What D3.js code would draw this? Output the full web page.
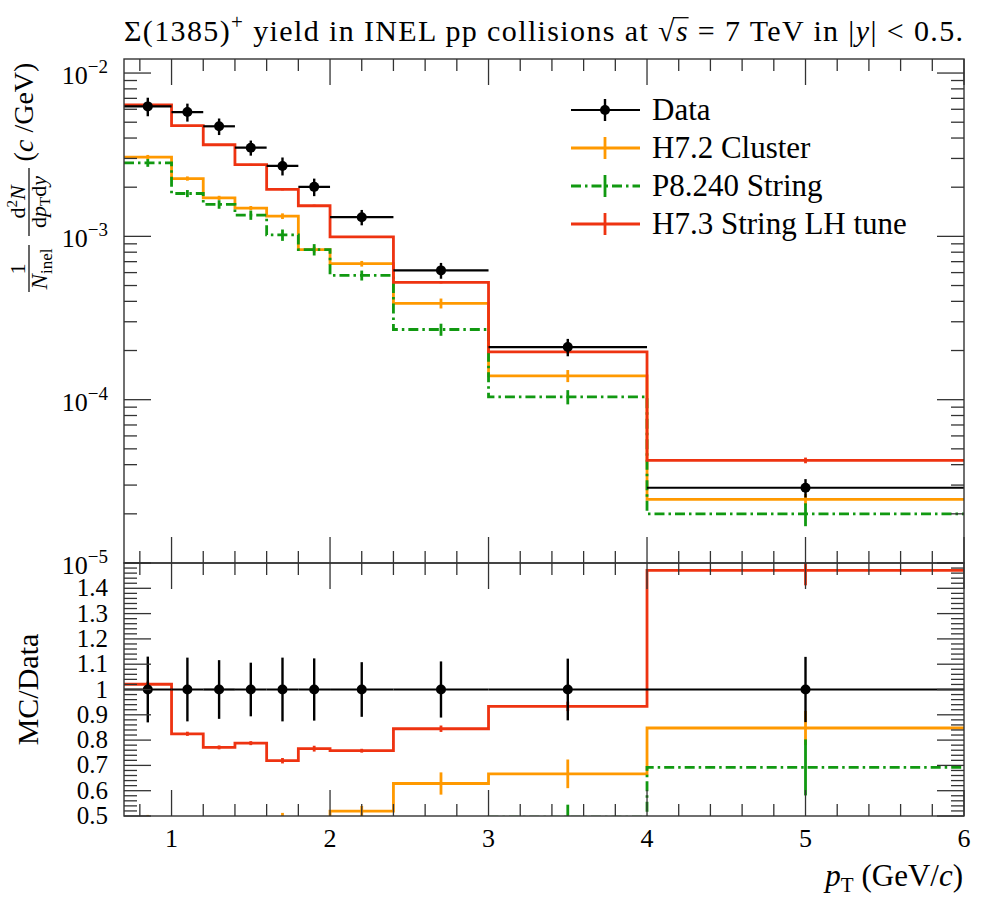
<!DOCTYPE html>
<html>
<head>
<meta charset="utf-8">
<script src="https://cdn.jsdelivr.net/npm/d3@7"></script>
<style>
  body { margin: 0; background: #fff; }
  svg { display: block; font-family: "Liberation Serif", "DejaVu Serif", serif; }
</style>
</head>
<body>
<svg id="chart" width="996" height="900"></svg>
<script>
(function() {
  //// Data
  const binEdges = [0.7, 1.0, 1.2, 1.4, 1.6, 1.8, 2.0, 2.4, 3.0, 4.0, 6.0];

  const dataValues = [6.25e-3, 5.77e-3, 4.72e-3, 3.49e-3, 2.70e-3, 2.01e-3, 1.31e-3, 6.19e-4, 2.10e-4, 2.89e-5];
  const dataRelErr = [0.13, 0.126, 0.116, 0.106, 0.126, 0.123, 0.108, 0.111, 0.122, 0.129];

  const h72Values = [3.06e-3, 2.26e-3, 1.72e-3, 1.49e-3, 1.33e-3, 8.3e-4, 6.8e-4, 3.89e-4, 1.40e-4, 2.45e-5];
  const h72RelErr = [0.03, 0.03, 0.03, 0.03, 0.04, 0.04, 0.04, 0.07, 0.085, 0.08];

  const p8Values = [2.82e-3, 1.83e-3, 1.57e-3, 1.35e-3, 1.02e-3, 8.3e-4, 5.77e-4, 2.69e-4, 1.04e-4, 2.0e-5];
  const p8RelErr = [0.055, 0.05, 0.06, 0.065, 0.08, 0.08, 0.07, 0.085, 0.1, 0.16];

  const h73Values = [6.38e-3, 4.76e-3, 3.64e-3, 2.75e-3, 1.94e-3, 1.54e-3, 9.93e-4, 5.23e-4, 1.96e-4, 4.25e-5];
  const h73RelErr = [0.01, 0.01, 0.01, 0.01, 0.015, 0.015, 0.01, 0.015, 0.02, 0.04];

  const xTickValues = [1, 2, 3, 4, 5, 6];
  const mainTickExponents = [-2, -3, -4, -5];
  const ratioTickValues = [0.5, 0.6, 0.7, 0.8, 0.9, 1, 1.1, 1.2, 1.3, 1.4];

  const legendLabels = ["Data", "H7.2 Cluster", "P8.240 String", "H7.3 String LH tune"];

  // MC series, in drawing order
  const mcSeries = [
    { name: legendLabels[1], values: h72Values, relErr: h72RelErr, color: "#ff9900", dash: null },
    { name: legendLabels[2], values: p8Values, relErr: p8RelErr, color: "#119911", dash: "10,4,2.5,4" },
    { name: legendLabels[3], values: h73Values, relErr: h73RelErr, color: "#ee3311", dash: null }
  ];

  //// Layout
  const frame = { left: 124, right: 964, top: 59, mid: 563, bottom: 816 };
  const tickColor = "#333";
  const majorLen = 26;
  const minorLen = 12;

  const x = d3.scaleLinear().domain([0.7, 6]).range([frame.left, frame.right]);
  const y = d3.scaleLog().domain([1e-5, 1.219e-2]).range([frame.mid, frame.top]);
  const yr = d3.scaleLinear().domain([0.5, 1.5]).range([frame.bottom, frame.mid]);

  const bins = binEdges.slice(0, -1).map((x0, i) => ({
    x0,
    x1: binEdges[i + 1],
    xc: (x0 + binEdges[i + 1]) / 2
  }));

  const svg = d3.select("#chart");
  const defs = svg.append("defs");
  defs.append("clipPath").attr("id", "clip-main")
    .append("rect")
    .attr("x", frame.left).attr("y", frame.top)
    .attr("width", frame.right - frame.left).attr("height", frame.mid - frame.top);
  defs.append("clipPath").attr("id", "clip-ratio")
    .append("rect")
    .attr("x", frame.left).attr("y", frame.mid)
    .attr("width", frame.right - frame.left).attr("height", frame.bottom - frame.mid);

  svg.append("rect").attr("width", 996).attr("height", 900).attr("fill", "#fff");

  // Step path helper
  const stepPoints = values => bins.flatMap((b, i) => [[b.x0, values[i]], [b.x1, values[i]]]);

  //// Main panel
  const main = svg.append("g").attr("clip-path", "url(#clip-main)");
  const mainLine = d3.line().x(d => x(d[0])).y(d => y(d[1]));

  mcSeries.forEach(s => {
    const g = main.append("g");
    g.append("path")
      .attr("d", mainLine(stepPoints(s.values)))
      .attr("fill", "none")
      .attr("stroke", s.color)
      .attr("stroke-width", 2.8)
      .attr("stroke-dasharray", s.dash);
    g.selectAll("line")
      .data(bins)
      .join("line")
      .attr("x1", d => x(d.xc))
      .attr("x2", d => x(d.xc))
      .attr("y1", (d, i) => y(s.values[i] * (1 - s.relErr[i])))
      .attr("y2", (d, i) => y(s.values[i] * (1 + s.relErr[i])))
      .attr("stroke", s.color)
      .attr("stroke-width", 2.8);
  });

  const dataG = main.append("g");
  dataG.selectAll(".xbar")
    .data(bins)
    .join("line")
    .attr("class", "xbar")
    .attr("x1", d => x(d.x0))
    .attr("x2", d => x(d.x1))
    .attr("y1", (d, i) => y(dataValues[i]))
    .attr("y2", (d, i) => y(dataValues[i]))
    .attr("stroke", "#000")
    .attr("stroke-width", 2.2);
  dataG.selectAll(".ybar")
    .data(bins)
    .join("line")
    .attr("class", "ybar")
    .attr("x1", d => x(d.xc))
    .attr("x2", d => x(d.xc))
    .attr("y1", (d, i) => y(dataValues[i] * (1 - dataRelErr[i])))
    .attr("y2", (d, i) => y(dataValues[i] * (1 + dataRelErr[i])))
    .attr("stroke", "#000")
    .attr("stroke-width", 2.4);
  dataG.selectAll("circle")
    .data(bins)
    .join("circle")
    .attr("cx", d => x(d.xc))
    .attr("cy", (d, i) => y(dataValues[i]))
    .attr("r", 5)
    .attr("fill", "#000");

  //// Ratio panel
  const ratio = svg.append("g").attr("clip-path", "url(#clip-ratio)");
  const ratioLine = d3.line().x(d => x(d[0])).y(d => yr(d[1]));

  mcSeries.forEach(s => {
    const r = s.values.map((v, i) => v / dataValues[i]);
    const g = ratio.append("g");
    g.append("path")
      .attr("d", ratioLine(stepPoints(r)))
      .attr("fill", "none")
      .attr("stroke", s.color)
      .attr("stroke-width", 2.8)
      .attr("stroke-dasharray", s.dash);
    g.selectAll("line")
      .data(bins)
      .join("line")
      .attr("x1", d => x(d.xc))
      .attr("x2", d => x(d.xc))
      .attr("y1", (d, i) => yr(r[i] * (1 - s.relErr[i])))
      .attr("y2", (d, i) => yr(r[i] * (1 + s.relErr[i])))
      .attr("stroke", s.color)
      .attr("stroke-width", 2.8);
  });

  const dataR = ratio.append("g");
  dataR.selectAll(".xbar")
    .data(bins)
    .join("line")
    .attr("class", "xbar")
    .attr("x1", d => x(d.x0))
    .attr("x2", d => x(d.x1))
    .attr("y1", yr(1))
    .attr("y2", yr(1))
    .attr("stroke", "#000")
    .attr("stroke-width", 2.2);
  dataR.selectAll(".ybar")
    .data(bins)
    .join("line")
    .attr("class", "ybar")
    .attr("x1", d => x(d.xc))
    .attr("x2", d => x(d.xc))
    .attr("y1", (d, i) => yr(1 - dataRelErr[i]))
    .attr("y2", (d, i) => yr(1 + dataRelErr[i]))
    .attr("stroke", "#000")
    .attr("stroke-width", 2.4);
  dataR.selectAll("circle")
    .data(bins)
    .join("circle")
    .attr("cx", d => x(d.xc))
    .attr("cy", yr(1))
    .attr("r", 5)
    .attr("fill", "#000");

  //// Ticks and frames
  const ticks = svg.append("g").attr("stroke", tickColor).attr("stroke-width", 1.3);
  const xMinor = d3.range(0.8, 6, 0.2).filter(v => Math.abs(v - Math.round(v)) > 1e-6);
  const logMinor = [-5, -4, -3, -2].flatMap(e => d3.range(2, 10).map(k => k * Math.pow(10, e)))
    .filter(v => v < y.domain()[1]);
  const ratioMinor = d3.range(0, 51).map(i => 0.5 + i * 0.02)
    .filter(v => Math.abs(v * 10 - Math.round(v * 10)) > 1e-6);
  const ratioMajor = d3.range(0, 11).map(i => 0.5 + i * 0.1);

  function xTicks(y0, dir) {
    ticks.append("g").selectAll("line")
      .data([...xTickValues.map(v => [v, majorLen]), ...xMinor.map(v => [v, minorLen])])
      .join("line")
      .attr("x1", d => x(d[0]))
      .attr("x2", d => x(d[0]))
      .attr("y1", y0)
      .attr("y2", d => y0 + dir * d[1]);
  }
  function yTicks(scale, majors, minors) {
    const all = [...majors.map(v => [v, majorLen + 1]), ...minors.map(v => [v, minorLen + 1])];
    [[frame.left, 1], [frame.right, -1]].forEach(([x0, dir]) => {
      ticks.append("g").selectAll("line")
        .data(all)
        .join("line")
        .attr("x1", x0)
        .attr("x2", d => x0 + dir * d[1])
        .attr("y1", d => scale(d[0]))
        .attr("y2", d => scale(d[0]));
    });
  }
  xTicks(frame.top, 1);
  xTicks(frame.mid, -1);
  xTicks(frame.mid, 1);
  xTicks(frame.bottom, -1);
  yTicks(y, mainTickExponents.map(e => Math.pow(10, e)), logMinor);
  yTicks(yr, ratioMajor, ratioMinor);

  svg.append("rect")
    .attr("x", frame.left).attr("y", frame.top)
    .attr("width", frame.right - frame.left).attr("height", frame.mid - frame.top)
    .attr("fill", "none").attr("stroke", tickColor).attr("stroke-width", 1.4);
  svg.append("rect")
    .attr("x", frame.left).attr("y", frame.mid)
    .attr("width", frame.right - frame.left).attr("height", frame.bottom - frame.mid)
    .attr("fill", "none").attr("stroke", tickColor).attr("stroke-width", 1.4);

  //// Tick labels
  const labels = svg.append("g").attr("fill", "#000");
  labels.selectAll(".xlab")
    .data(xTickValues)
    .join("text")
    .attr("class", "xlab")
    .attr("x", d => x(d))
    .attr("y", 847)
    .attr("text-anchor", "middle")
    .attr("font-size", 26)
    .text(d => d);

  labels.selectAll(".ylab")
    .data(mainTickExponents)
    .join("text")
    .attr("class", "ylab")
    .attr("x", 108)
    .attr("y", d => y(Math.pow(10, d)) + 11)
    .attr("text-anchor", "end")
    .attr("font-size", 26)
    .call(t => t.append("tspan").text("10"))
    .call(t => t.append("tspan")
      .attr("dy", -11)
      .attr("font-size", 19)
      .text(d => "\u2212" + Math.abs(d)));

  labels.selectAll(".rlab")
    .data(ratioTickValues)
    .join("text")
    .attr("class", "rlab")
    .attr("x", 108)
    .attr("y", d => yr(d) + 8)
    .attr("text-anchor", "end")
    .attr("font-size", 25)
    .text(d => (d === 1 ? "1" : d3.format(".1f")(d)));

  //// Axis titles
  svg.append("text")
    .attr("x", 963)
    .attr("y", 886)
    .attr("text-anchor", "end")
    .attr("font-size", 31)
    .call(t => t.append("tspan").attr("font-style", "italic").text("p"))
    .call(t => t.append("tspan").attr("dy", 6).attr("font-size", 21).text("T"))
    .call(t => t.append("tspan").attr("dy", -6).text(" (GeV/"))
    .call(t => t.append("tspan").attr("font-style", "italic").text("c"))
    .call(t => t.append("tspan").text(")"));

  svg.append("text")
    .attr("transform", `translate(38,${yr(1)}) rotate(-90)`)
    .attr("text-anchor", "middle")
    .attr("font-size", 30)
    .text("MC/Data");

  // Main y title: 1/N_inel  d²N/dp_T dy  (c/GeV)
  const yt = svg.append("g").attr("transform", "translate(29,178) rotate(-90)");
  yt.append("text")
    .attr("x", 66).attr("y", 4)
    .attr("text-anchor", "middle")
    .attr("font-size", 28)
    .call(t => t.append("tspan").text("("))
    .call(t => t.append("tspan").attr("font-style", "italic").text("c"))
    .call(t => t.append("tspan").text(" /GeV)"));
  // fraction d²N / dp_T dy
  yt.append("text")
    .attr("x", -24).attr("y", -4)
    .attr("text-anchor", "middle")
    .attr("font-size", 22)
    .call(t => t.append("tspan").text("d"))
    .call(t => t.append("tspan").attr("dy", -8).attr("font-size", 15).text("2"))
    .call(t => t.append("tspan").attr("dy", 8).attr("font-style", "italic").text("N"));
  yt.append("line")
    .attr("x1", -58).attr("x2", 10).attr("y1", 0).attr("y2", 0)
    .attr("stroke", "#000").attr("stroke-width", 1.2);
  yt.append("text")
    .attr("x", -24).attr("y", 17)
    .attr("text-anchor", "middle")
    .attr("font-size", 22)
    .call(t => t.append("tspan").text("d"))
    .call(t => t.append("tspan").attr("font-style", "italic").text("p"))
    .call(t => t.append("tspan").attr("dy", 4).attr("font-size", 15).text("T"))
    .call(t => t.append("tspan").attr("dy", -4).text("d"))
    .call(t => t.append("tspan").attr("font-style", "italic").text("y"));
  // fraction 1 / N_inel
  yt.append("text")
    .attr("x", -91).attr("y", -4)
    .attr("text-anchor", "middle")
    .attr("font-size", 22)
    .text("1");
  yt.append("line")
    .attr("x1", -114).attr("x2", -67).attr("y1", 0).attr("y2", 0)
    .attr("stroke", "#000").attr("stroke-width", 1.2);
  yt.append("text")
    .attr("x", -91).attr("y", 18)
    .attr("text-anchor", "middle")
    .attr("font-size", 23)
    .call(t => t.append("tspan").attr("font-style", "italic").text("N"))
    .call(t => t.append("tspan").attr("dy", 5).attr("font-size", 17).text("inel"));

  //// Title
  const titleY = 41;
  const title = svg.append("text")
    .attr("x", 124)
    .attr("y", titleY)
    .attr("font-size", 30)
    .attr("textLength", 839)
    .attr("lengthAdjust", "spacing")
    .call(t => t.append("tspan").text("\u03A3(1385)"))
    .call(t => t.append("tspan").attr("dy", -12).attr("font-size", 21).text("+"))
    .call(t => t.append("tspan").attr("dy", 12).text(" yield in INEL pp collisions at \u221A"))
    .call(t => t.append("tspan").attr("font-style", "italic").text("s"))
    .call(t => t.append("tspan").text(" = 7 TeV in |"))
    .call(t => t.append("tspan").attr("font-style", "italic").text("y"))
    .call(t => t.append("tspan").text("| < 0.5."));

  // radical bar over the s
  const titleNode = title.node();
  const rootIndex = titleNode.textContent.indexOf("\u221A");
  const rootBox = titleNode.getExtentOfChar(rootIndex);
  const sBox = titleNode.getExtentOfChar(rootIndex + 1);
  svg.append("line")
    .attr("x1", rootBox.x + rootBox.width - 1.5)
    .attr("x2", sBox.x + sBox.width + 1)
    .attr("y1", titleY - 23.3)
    .attr("y2", titleY - 23.3)
    .attr("stroke", "#000")
    .attr("stroke-width", 1.3);

  //// Legend
  const legendRows = [
    { name: legendLabels[0], color: "#000", dash: null, dot: true },
    ...mcSeries.map(s => ({ name: s.name, color: s.color, dash: s.dash, dot: false }))
  ];
  const legend = svg.append("g")
    .selectAll("g")
    .data(legendRows)
    .join("g")
    .attr("transform", (d, i) => `translate(0,${110 + i * 38})`);
  legend.append("line")
    .attr("x1", 571).attr("x2", 640).attr("y1", 0).attr("y2", 0)
    .attr("stroke", d => d.color)
    .attr("stroke-width", d => (d.dot ? 2.2 : 2.8))
    .attr("stroke-dasharray", d => d.dash);
  legend.append("line")
    .attr("x1", 605).attr("x2", 605).attr("y1", -11).attr("y2", 11)
    .attr("stroke", d => d.color)
    .attr("stroke-width", d => (d.dot ? 2.4 : 2.8));
  legend.filter(d => d.dot)
    .append("circle")
    .attr("cx", 605).attr("cy", 0).attr("r", 5).attr("fill", "#000");
  legend.append("text")
    .attr("x", 652).attr("y", 10)
    .attr("font-size", 31)
    .text(d => d.name);
})();
</script>
</body>
</html>
